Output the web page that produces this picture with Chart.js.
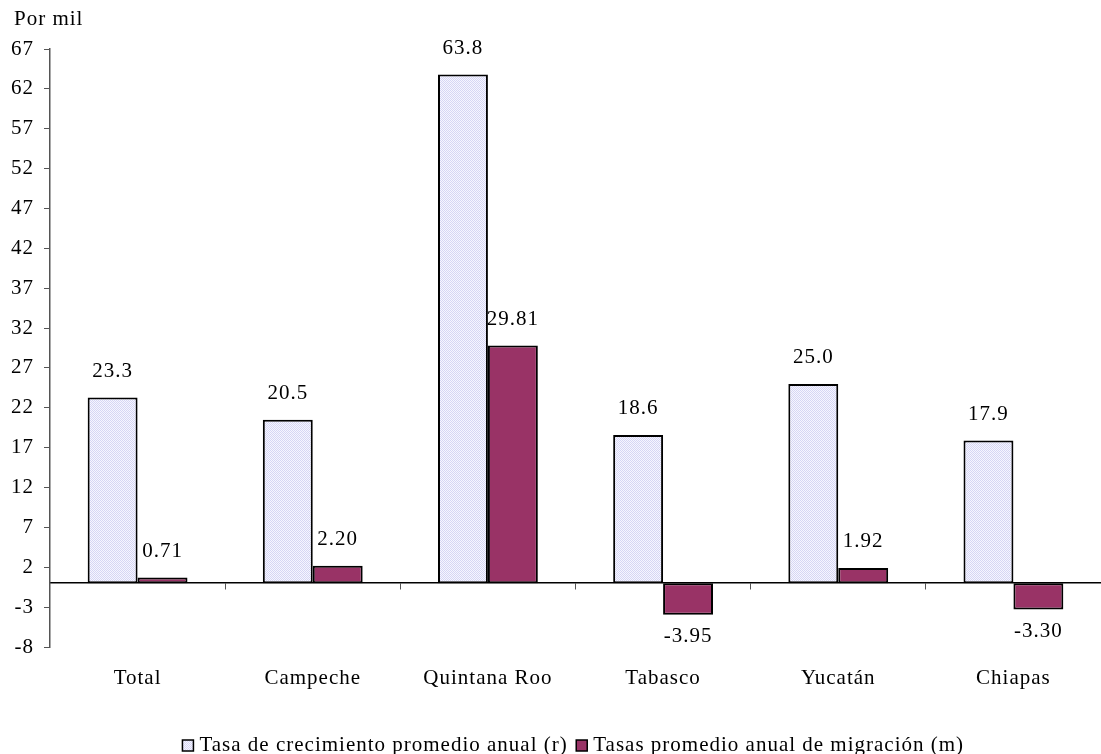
<!DOCTYPE html>
<html>
<head>
<meta charset="utf-8">
<script src="https://cdn.jsdelivr.net/npm/chart.js@4.4.1/dist/chart.umd.min.js"></script>
<style>
  html, body { margin: 0; padding: 0; background: #ffffff; }
  #wrap { width: 1101px; height: 754px; position: relative; }
</style>
</head>
<body>
<div id="wrap"><canvas id="chart" width="1101" height="754"></canvas></div>
<script>
// Entidades federativas
const categories = ['Total', 'Campeche', 'Quintana Roo', 'Tabasco', 'Yucatán', 'Chiapas'];
// Tasa de crecimiento promedio anual (r), por mil
const growthRate = [23.3, 20.5, 63.8, 18.6, 25.0, 17.9];
// Tasas promedio anual de migración (m), por mil
const migrationRate = [0.71, 2.20, 29.81, -3.95, 1.92, -3.30];
// Marcas del eje vertical
const yTicks = [-8, -3, 2, 7, 12, 17, 22, 27, 32, 37, 42, 47, 52, 57, 62, 67];

const seriesNames = ['Tasa de crecimiento promedio anual (r)', 'Tasas promedio anual de migración (m)'];
const decimals = [1, 2];
const FONT = '"Liberation Serif", "Times New Roman", serif';
const FONT_SIZE = 21;
const SPACING = '1px';

// Fine dotted lavender fill for the growth-rate bars
function dottedPattern() {
  const c = document.createElement('canvas');
  c.width = 2; c.height = 2;
  const g = c.getContext('2d');
  g.fillStyle = '#f6f6ff';
  g.fillRect(0, 0, 2, 2);
  g.fillStyle = '#d6d6f4';
  g.fillRect(0, 0, 1, 1);
  g.fillRect(1, 1, 1, 1);
  return g.createPattern(c, 'repeat');
}
const ctx = document.getElementById('chart').getContext('2d');
const dots = dottedPattern();

// Slightly widened lettering for every text drawn on the canvas
const wideText = {
  id: 'wideText',
  beforeUpdate(chart) { chart.ctx.letterSpacing = SPACING; },
  beforeLayout(chart) { chart.ctx.letterSpacing = SPACING; },
  beforeDraw(chart) { chart.ctx.letterSpacing = SPACING; }
};

const valueLabels = {
  id: 'valueLabels',
  afterDatasetsDraw(chart) {
    const g = chart.ctx;
    g.save();
    g.letterSpacing = SPACING;
    g.font = FONT_SIZE + 'px ' + FONT;
    g.fillStyle = '#000';
    g.textAlign = 'center';
    g.textBaseline = 'middle';
    chart.data.datasets.forEach((ds, di) => {
      const meta = chart.getDatasetMeta(di);
      meta.data.forEach((bar, i) => {
        const v = ds.data[i];
        const txt = v.toFixed(decimals[di]);
        const y = v >= 0 ? bar.y - 26 : bar.y + 22;
        g.fillText(txt, bar.x, y);
      });
    });
    // unit caption above the vertical axis
    g.textAlign = 'left';
    g.fillText('Por mil', 14, 19);
    g.restore();
  }
};

new Chart(ctx, {
  type: 'bar',
  data: {
    labels: categories,
    datasets: [
      {
        label: seriesNames[0],
        data: growthRate,
        backgroundColor: dots,
        borderColor: '#000',
        borderWidth: 2,
        borderSkipped: false,
        categoryPercentage: 0.57,
        barPercentage: 1.0
      },
      {
        label: seriesNames[1],
        data: migrationRate,
        backgroundColor: '#993366',
        borderColor: '#000',
        borderWidth: 2,
        borderSkipped: false,
        categoryPercentage: 0.57,
        barPercentage: 1.0
      }
    ]
  },
  options: {
    responsive: false,
    animation: false,
    devicePixelRatio: 1,
    layout: { padding: { top: 49, left: 0, right: 0, bottom: -12 } },
    plugins: {
      tooltip: { enabled: false },
      legend: {
        position: 'bottom',
        fullSize: false,
        labels: {
          font: { family: FONT, size: FONT_SIZE },
          color: '#000',
          usePointStyle: true,
          pointStyle: 'rect',
          boxWidth: 2,
          boxHeight: 11,
          padding: 13,
          generateLabels(chart) {
            const items = Chart.defaults.plugins.legend.labels.generateLabels(chart);
            items.forEach(it => { it.lineWidth = 1.5; });
            return items;
          }
        }
      }
    },
    scales: {
      // category axis drawn along the zero line
      x: {
        type: 'category',
        position: { y: 0 },
        offset: true,
        grid: {
          display: true,
          drawOnChartArea: false,
          drawTicks: true,
          tickLength: 6,
          color: '#555',
          offset: true
        },
        border: { display: true, color: '#000', width: 1.5 },
        ticks: { display: false }
      },
      // category names below the plot
      x2: {
        type: 'category',
        position: 'bottom',
        offset: true,
        grid: { display: false, drawTicks: false },
        border: { display: false },
        ticks: {
          font: { family: FONT, size: FONT_SIZE },
          color: '#000',
          padding: 19,
          maxRotation: 0
        },
        afterFit(scale) { scale.height = 75; }
      },
      y: {
        min: -8,
        max: 67,
        afterBuildTicks(axis) { axis.ticks = yTicks.map(v => ({ value: v })); },
        afterFit(scale) { scale.width = 50; },
        grid: {
          display: true,
          drawOnChartArea: false,
          drawTicks: true,
          tickLength: 6,
          color: '#555'
        },
        border: { display: true, color: '#555', width: 1.5 },
        ticks: {
          font: { family: FONT, size: FONT_SIZE },
          color: '#000',
          padding: 10,
          autoSkip: false
        }
      }
    }
  },
  plugins: [wideText, valueLabels]
});
</script>
</body>
</html>
